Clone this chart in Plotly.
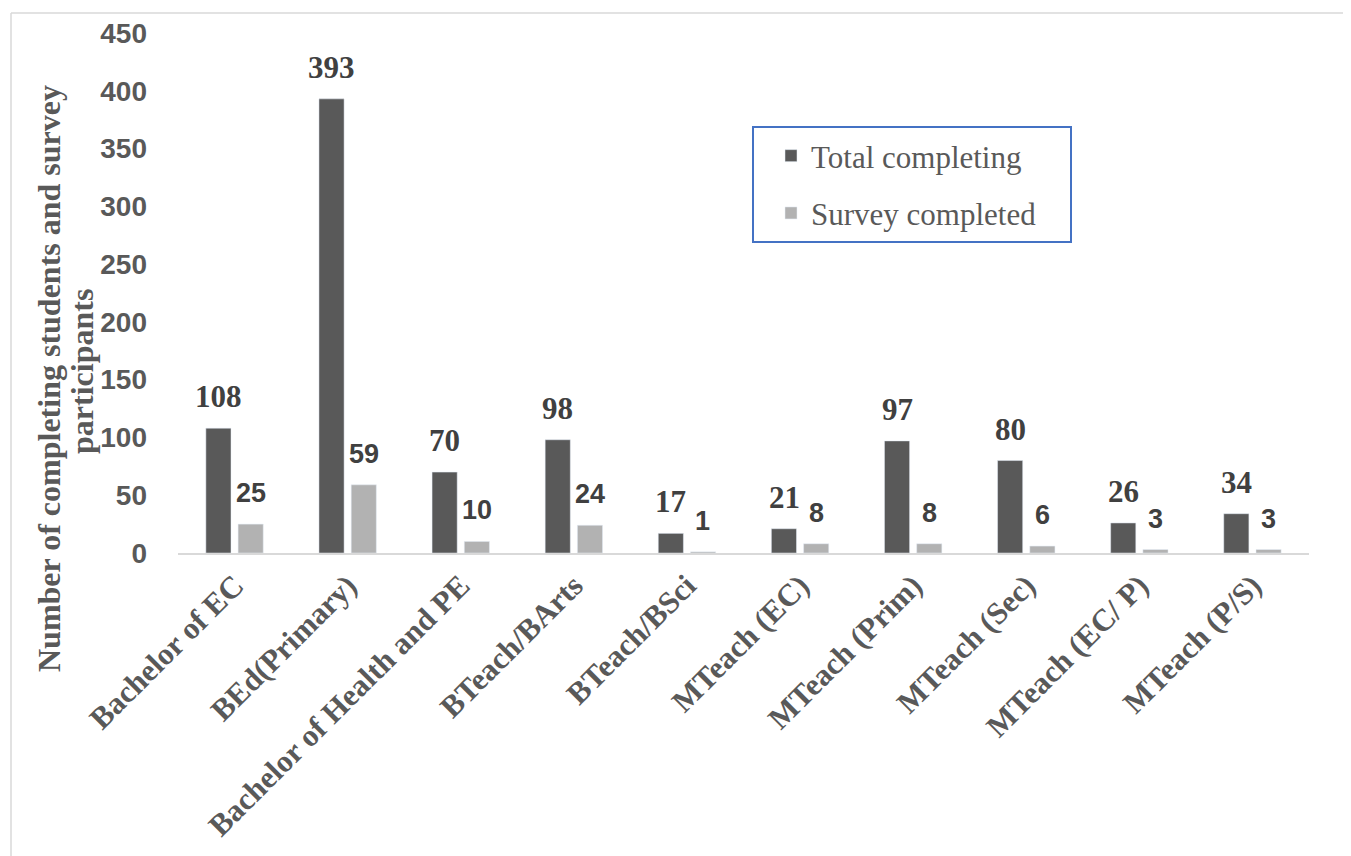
import plotly.graph_objects as go

categories = ["Bachelor of EC", "BEd(Primary)", "Bachelor of Health and PE", "BTeach/BArts",
              "BTeach/BSci", "MTeach (EC)", "MTeach (Prim)", "MTeach (Sec)", "MTeach (EC/ P)", "MTeach (P/S)"]
total_completing = [108, 393, 70, 98, 17, 21, 97, 80, 26, 34]
survey_completed = [25, 59, 10, 24, 1, 8, 8, 6, 3, 3]
y_ticks = [0, 50, 100, 150, 200, 250, 300, 350, 400, 450]

OFF = 8  # default page body margin
W, H = 1351, 856
# plot area in page pixels: x 178..1309, y 33..553
L = 178 - OFF
T = 33 - OFF
R = W - (1309 - OFF)
B = H - (553 - OFF)
PW, PH = W - L - R, H - T - B

def px_x(p):
    return (p - OFF - L) / PW

def px_y(p):
    return 1 - (p - OFF - T) / PH

SERIF = "Liberation Serif, Times New Roman, serif"
SANS = "Liberation Sans, Arial, sans-serif"
GRAY = "#595959"
LABEL = "#404040"

fig = go.Figure()
fig.add_trace(go.Bar(name="Total completing", x=categories, y=total_completing,
                     marker_color="#595959", legendgroup="a"))
fig.add_trace(go.Bar(name="Survey completed", x=categories, y=survey_completed,
                     marker_color="#b2b2b2", legendgroup="b"))

annotations = []
for c, v in zip(categories, total_completing):
    annotations.append(dict(x=c, y=v, xref="x", yref="y", text=str(v), showarrow=False,
                            yanchor="bottom", xshift=-16, yshift=12,
                            font=dict(family=SERIF, size=31, color=LABEL, weight="bold")))
for c, v in zip(categories, survey_completed):
    annotations.append(dict(x=c, y=v, xref="x", yref="y", text=str(v), showarrow=False,
                            yanchor="bottom", xshift=16, yshift=14,
                            font=dict(family=SANS, size=27, color=LABEL, weight="bold")))
annotations.append(dict(x=px_x(49), y=px_y(379), xref="paper", yref="paper",
                        text="Number of completing students and survey",
                        textangle=-90, showarrow=False, xanchor="center", yanchor="middle",
                        font=dict(family=SERIF, size=32, color=GRAY, weight="bold")))
annotations.append(dict(x=px_x(82), y=px_y(372), xref="paper", yref="paper",
                        text="participants",
                        textangle=-90, showarrow=False, xanchor="center", yanchor="middle",
                        font=dict(family=SERIF, size=32, color=GRAY, weight="bold")))

shapes = [
    dict(type="line", xref="paper", yref="paper", x0=px_x(11), x1=px_x(1370),
         y0=px_y(13), y1=px_y(13), line=dict(color="#d9d9d9", width=1.5)),
    dict(type="line", xref="paper", yref="paper", x0=px_x(11), x1=px_x(11),
         y0=px_y(13), y1=px_y(880), line=dict(color="#d9d9d9", width=1.5)),
    dict(type="rect", xref="paper", yref="paper", x0=px_x(753), x1=px_x(1071),
         y0=px_y(242), y1=px_y(127), line=dict(color="#4472c4", width=2)),
]

fig.update_layout(
    width=W, height=H,
    margin=dict(l=L, r=R, t=T, b=B, autoexpand=False),
    paper_bgcolor="white", plot_bgcolor="white",
    barmode="group", bargap=0.43, bargroupgap=0.22,
    showlegend=True,
    legend=dict(x=px_x(771), y=px_y(129), xanchor="left", yanchor="top",
                font=dict(family=SERIF, size=31, color=GRAY),
                bgcolor="rgba(0,0,0,0)", borderwidth=0,
                traceorder="grouped", tracegroupgap=14),
    annotations=annotations,
    shapes=shapes,
    xaxis=dict(showline=True, linecolor="#d9d9d9", linewidth=2, ticks="",
               tickangle=-45, automargin=False, showgrid=False,
               tickfont=dict(family=SERIF, size=31, color=GRAY, weight="bold")),
    yaxis=dict(range=[0, 450], tickvals=y_ticks, showgrid=False, zeroline=False,
               showline=False, ticks="", automargin=False, ticklabelstandoff=30,
               tickfont=dict(family=SANS, size=28, color=GRAY, weight="bold")),
)

fig.write_html("out.html")
